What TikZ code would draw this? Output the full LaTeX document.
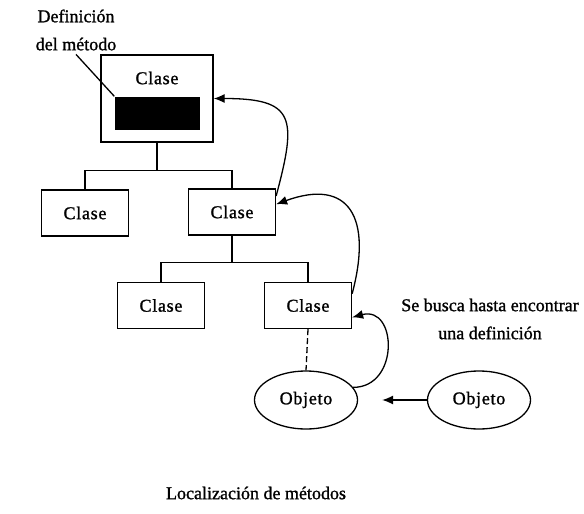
\documentclass[tikz,border=0pt]{standalone}
\usepackage{fontspec}
\setmainfont{Liberation Serif}
\newfontfamily\serifont[FakeBold=1.2]{Liberation Serif}
\newfontfamily\boxfont[LetterSpace=4,FakeBold=1.2]{Liberation Serif}
\usepackage{tikz}
\usetikzlibrary{arrows.meta,shapes.geometric}

\begin{document}
\begin{tikzpicture}[x=1pt,y=-1pt,>={Latex[length=11pt,width=9pt]},line width=1.3pt,
    clase/.style={draw,rectangle,minimum width=87pt,minimum height=46pt,
      inner sep=0pt,font=\boxfont\fontsize{18}{20}\selectfont},
    objeto/.style={draw,ellipse,minimum width=103pt,minimum height=58pt,
      inner sep=0pt,font=\boxfont\fontsize{18}{20}\selectfont}]
  \useasboundingbox (0,0) rectangle (584,514);
  \node[clase, minimum width=112pt, minimum height=87pt] (c0) at (157,98.5) {};
  \node[font=\boxfont\fontsize{18}{20}\selectfont] (c0t) at (157,78) {Clase};
  \node[fill=black, minimum width=85pt, minimum height=33pt, inner sep=0pt]
    (def) at (157.5,113.5) {};
  \node[clase] (c1) at (85,213) {Clase};
  \node[clase] (c2) at (232,212) {Clase};
  \node[clase] (c3) at (161,305.5) {Clase};
  \node[clase] (c4) at (308,305.5) {Clase};
  \node[objeto] (o1) at (306,400) {Objeto};
  \node[objeto] (o2) at (479,400) {Objeto};
  \node[align=center, font=\serifont\fontsize{18}{28}\selectfont] (lbl) at (76,30)
    {Definición\\del método};
  \node[align=center, font=\serifont\fontsize{18}{28}\selectfont] (busca) at (490,319)
    {Se busca hasta encontrar\\una definición};
  \node[font=\serifont\fontsize{18}{20}\selectfont] (titulo) at (256,493)
    {Localización de métodos};
  % jerarquia
  \draw (c0.south) -- ++(0,28) coordinate (b0);
  \draw (c1.north) |- (b0) -| (c2.north);
  \draw (c2.south) -- ++(0,27) coordinate (b1);
  \draw (c3.north) |- (b1) -| (c4.north);
  \draw[dash pattern=on 6pt off 3pt] (c4.south) -- (o1.north);
  \draw (lbl.south) -- (def.north west);
  % busqueda
  \draw[->] (c2.20) to[out=75,in=0,looseness=1.8] (c0.east);
  \draw[->] (c4.15) to[out=75,in=20,looseness=1.7] (c2.10);
  \draw[->] (o1.15) to[out=0,in=15,looseness=1.7] (c4.-15);
  \draw[->, shorten >=24pt] (o2) -- (o1);
\end{tikzpicture}
\end{document}
